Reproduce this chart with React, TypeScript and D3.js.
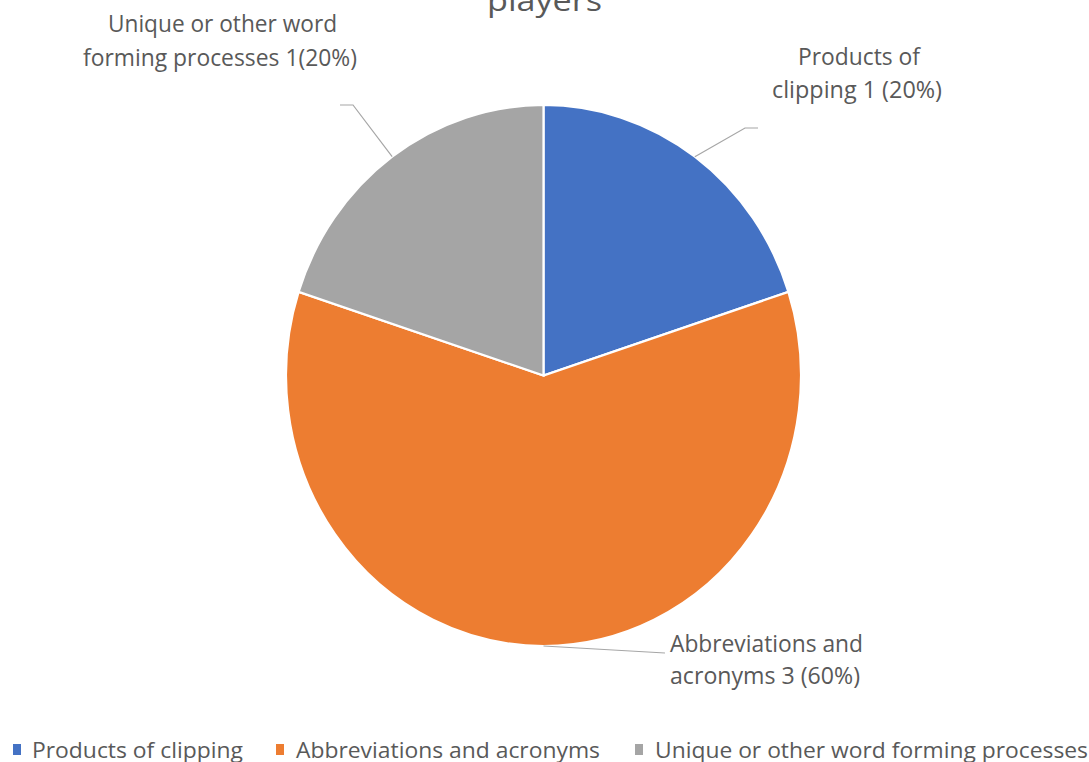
import React from "react";
import * as d3 from "d3";

const categories = ["Products of clipping", "Abbreviations and acronyms", "Unique or other word forming processes"];
const values = [1, 3, 1];
const colors = ["#4472C4", "#ED7D31", "#A5A5A5"];
const labelLines = [
  ["Products of", "clipping 1 (20%)"],
  ["Abbreviations and", "acronyms 3 (60%)"],
  ["Unique or other word", "forming processes 1(20%)"],
];
const titleText = "players";

const W = 1089, H = 762;
const cx = 543.5, cy = 375.5, rx = 257.5, ry = 270.5;
const sy = ry / rx;
const FONT = "'Open Sans', 'Liberation Sans', sans-serif";
const TXT = "#595959";

// label layout: [x, baseline1, width1, x2, baseline2, width2], leader end points
const labelLayout = [
  { l1: [798, 65, 122], l2: [772, 98, 170], leader: [[745, 128], [758, 128]] },
  { l1: [670, 652, 193], l2: [670, 684, 190], leader: [[665, 653]] },
  { l1: [108, 32, 229], l2: [83, 66, 274], leader: [[353, 105], [340, 105]] },
];
const legendLayout = [
  { sq: 13, tx: 32, w: 211 },
  { sq: 276, tx: 296, w: 304 },
  { sq: 635, tx: 655, w: 433 },
];

export default function App() {
  const pie = d3.pie<number>().sort(null).value((d) => d)(values);
  const arc = d3.arc<d3.PieArcDatum<number>>().innerRadius(0).outerRadius(rx);
  return (
    <svg width={W} height={H} style={{ position: "fixed", left: 0, top: 0, display: "block", background: "#fff" }}>
      <rect width={W} height={H} fill="#fff" />
      <text x={487} y={11} fontFamily={FONT} fontSize={30} fill={TXT} textLength={115} lengthAdjust="spacingAndGlyphs">
        {titleText}
      </text>
      <g transform={`translate(${cx},${cy}) scale(1,${sy})`}>
        {pie.map((p, i) => (
          <path key={i} d={arc(p) || ""} fill={colors[i]} stroke="#fff" strokeWidth={2.2} vectorEffect="non-scaling-stroke" />
        ))}
      </g>
      {pie.map((p, i) => {
        const mid = (p.startAngle + p.endAngle) / 2;
        const sx = cx + rx * Math.sin(mid);
        const syy = cy - ry * Math.cos(mid);
        const L = labelLayout[i];
        const pts = [[sx, syy], ...L.leader];
        return (
          <g key={i}>
            <polyline points={pts.map((q) => q.join(",")).join(" ")} fill="none" stroke="#a6a6a6" strokeWidth={1.2} />
            <text x={L.l1[0]} y={L.l1[1]} fontFamily={FONT} fontSize={24} fill={TXT} textLength={L.l1[2]} lengthAdjust="spacingAndGlyphs">
              {labelLines[i][0]}
            </text>
            <text x={L.l2[0]} y={L.l2[1]} fontFamily={FONT} fontSize={24} fill={TXT} textLength={L.l2[2]} lengthAdjust="spacingAndGlyphs">
              {labelLines[i][1]}
            </text>
          </g>
        );
      })}
      {categories.map((c, i) => {
        const L = legendLayout[i];
        return (
          <g key={c}>
            <rect x={L.sq} y={744} width={8} height={11} fill={colors[i]} />
            <text x={L.tx} y={758} fontFamily={FONT} fontSize={22} fill={TXT} textLength={L.w} lengthAdjust="spacingAndGlyphs">
              {c}
            </text>
          </g>
        );
      })}
    </svg>
  );
}
